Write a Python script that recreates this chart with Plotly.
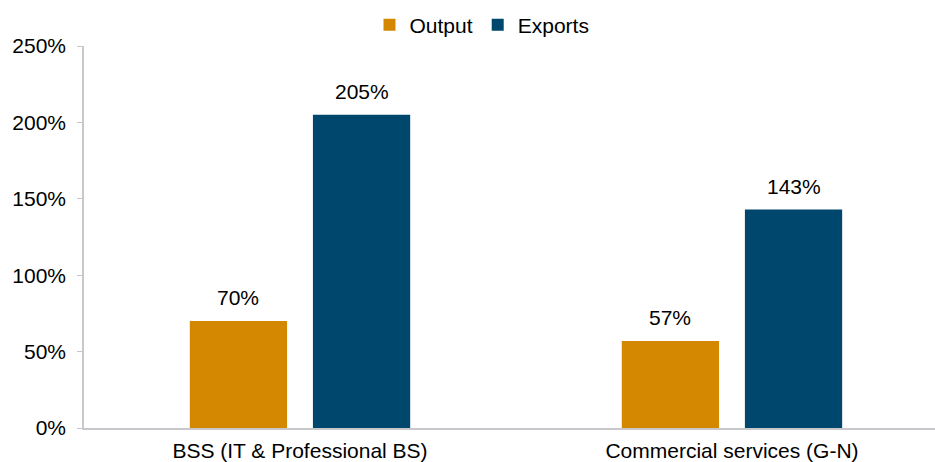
import plotly.graph_objects as go

categories = ["BSS (IT & Professional BS)", "Commercial services (G-N)"]
output_vals = [0.70, 0.57]
export_vals = [2.05, 1.43]
tick_vals = [0, 0.5, 1.0, 1.5, 2.0, 2.5]
tick_text = ["0%", "50%", "100%", "150%", "200%", "250%"]

xpos = list(range(len(categories)))
font = "Liberation Sans, Arial, sans-serif"
FS = 21

BARGAP = 0.43
BARGROUPGAP = 0.21
slot = (1 - BARGAP) / 2

fig = go.Figure()
series = [("Output", output_vals, "#D48700", -slot / 2),
          ("Exports", export_vals, "#00476E", slot / 2)]
for name, vals, color, off in series:
    fig.add_trace(go.Bar(name=name, x=xpos, y=vals,
                         marker=dict(color=color, line=dict(width=0))))
    for xi, v in zip(xpos, vals):
        fig.add_annotation(x=xi + off, y=v, text=f"{v*100:.0f}%", showarrow=False,
                           xref="x", yref="y", yanchor="bottom", yshift=10,
                           font=dict(size=FS, color="#000000", family=font))

fig.update_layout(
    width=935, height=462,
    margin=dict(l=84, r=0, t=46, b=34, autoexpand=False),
    paper_bgcolor="white", plot_bgcolor="white",
    font=dict(family=font, size=FS, color="#000000"),
    barmode="group", bargap=BARGAP, bargroupgap=BARGROUPGAP,
    showlegend=True,
    legend=dict(orientation="h", x=482 / 935, xanchor="center", xref="container",
                y=1 - 25 / 462, yanchor="middle", yref="container",
                font=dict(size=FS), itemwidth=30, traceorder="normal",
                bgcolor="rgba(0,0,0,0)"),
)
fig.update_xaxes(range=[-0.5, 1.47], tickvals=xpos, ticktext=categories,
                 showline=True, linecolor="#C8C8CC", linewidth=1.5,
                 ticks="", showgrid=False, zeroline=False, automargin=False,
                 ticklabelstandoff=3, tickfont=dict(size=FS))
fig.update_yaxes(range=[0, 2.5], tickvals=tick_vals, ticktext=tick_text,
                 showline=True, linecolor="#C8C8CC", linewidth=1.5,
                 ticks="outside", ticklen=5, tickcolor="#C8C8CC",
                 showgrid=False, zeroline=False, automargin=False,
                 ticklabelstandoff=7, tickfont=dict(size=FS))

fig.write_html("out.html", config={"displayModeBar": False},
               post_script="document.body.style.margin='0';document.body.style.overflow='hidden';")
